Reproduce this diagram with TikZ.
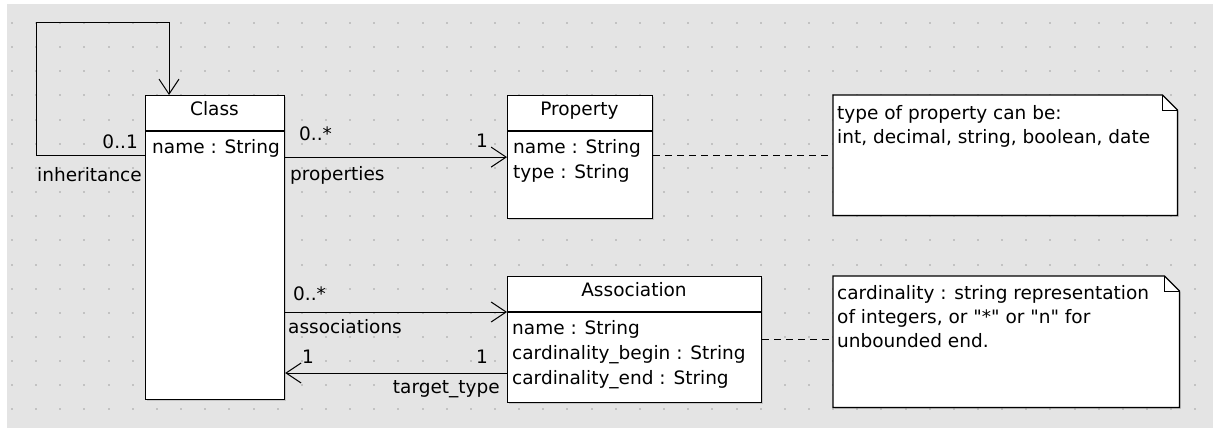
\documentclass[tikz,border=0pt]{standalone}
\usepackage{fontspec}
\setmainfont{DejaVu Sans}[Ligatures=TeXOff]
\usetikzlibrary{arrows.meta,shadows,positioning}
\definecolor{canvasgray}{HTML}{E4E4E4}
\definecolor{dotgray}{HTML}{C2C2C2}
\begin{document}
\begin{tikzpicture}[x=1pt, y=-1pt, font=\fontsize{18.5pt}{24pt}\selectfont,
    box/.style = {draw, fill=white, line width=1.2pt, inner sep=0pt, anchor=north west,
                  drop shadow={shadow xshift=1.5pt, shadow yshift=-1.5pt, opacity=.3}},
    notebox/.style = {inner sep=0pt, anchor=north west},
    notebody/.style = {draw, fill=white, line width=1.2pt,
                  drop shadow={shadow xshift=1.5pt, shadow yshift=-1.5pt, opacity=.3}},
    title/.style = {inner sep=0pt, anchor=base},
    attr/.style = {inner sep=0pt, anchor=base west},
    lblw/.style = {inner sep=0pt, anchor=base west},
    lble/.style = {inner sep=0pt, anchor=base east},
    assoc/.style = {line width=1pt, -{Straight Barb[length=15pt, width=20pt]}},
    link/.style = {line width=1pt, dash pattern=on 7pt off 5pt}]
    \useasboundingbox (0,0) rectangle (1213,428);
    \fill[white] (0,0) rectangle (1213,428);
    \fill[canvasgray] (7,4) rectangle (1213,428);
    \foreach \i in {0,...,49}
        \foreach \j in {0,...,16}
            \fill[dotgray] ({11+24.15*\i},{22+24.15*\j}) rectangle ++(2,2);

    \node[box, minimum width=139pt, minimum height=304pt] (class) at (145,95) {};
    \node[title] (classtitle) at (214.5,115) {Class};
    \draw[line width=1.2pt] ([yshift=-36pt]class.north west) -- ([yshift=-36pt]class.north east);
    \node[attr] (classname) at (152,153) {name : String};

    \node[box, minimum width=145pt, minimum height=123pt] (prop) at (507,95) {};
    \node[title] (proptitle) at (579.5,115) {Property};
    \draw[line width=1.2pt] ([yshift=-36pt]prop.north west) -- ([yshift=-36pt]prop.north east);
    \node[attr] (propname) at (513,153) {name : String};
    \node[attr] (proptype) at (513,178) {type : String};

    \node[box, minimum width=254pt, minimum height=126pt] (assoc) at (507,276) {};
    \node[title] (assoctitle) at (634,296) {Association};
    \draw[line width=1.2pt] ([yshift=-36pt]assoc.north west) -- ([yshift=-36pt]assoc.north east);
    \node[attr] (assocname) at (512,334) {name : String};
    \node[attr] (assocbegin) at (512,359) {cardinality\_begin : String};
    \node[attr] (assocend) at (512,384) {cardinality\_end : String};

    \node[notebox, minimum width=344pt, minimum height=120pt] (note1) at (833,95) {};
    \node[notebox, minimum width=346pt, minimum height=131pt] (note2) at (833,276) {};
    \foreach \n in {note1,note2} {
        \path[notebody] (\n.north west) -- ([xshift=-15pt]\n.north east)
            -- ([yshift=-15pt]\n.north east) -- (\n.south east) -- (\n.south west) -- cycle;
        \draw[line width=1pt] ([xshift=-15pt]\n.north east) |- ([yshift=-15pt]\n.north east);
    }
    \node[attr, align=left] (note1text) at (837,143) {type of property can be:\\int, decimal, string, boolean, date};
    \node[attr, align=left] (note2text) at (837,347) {cardinality : string representation\\of integers, or "*" or "n" for\\unbounded end.};

    \coordinate (inhfrom) at ([yshift=-60pt]class.north west);
    \coordinate (inhto) at ([xshift=24pt]class.north west);
    \draw[assoc] (inhfrom) -- ++(-109,0) |- ([yshift=72pt]inhto) -- (inhto);
    \node[lble] (inhmult) at (138,148) {0..1};
    \node[lblw] (inhname) at (37,181) {inheritance};

    \draw[assoc] (class.east |- prop.west) -- (prop.west);
    \node[lblw] (propmultsrc) at (299,140) {0..*};
    \node[lblw] (propname) at (290,180) {properties};
    \node[lble] (propmultdst) at (488,147) {1};

    \coordinate (associn) at ([yshift=-36pt]assoc.north west);
    \coordinate (assocout) at ([yshift=-97pt]assoc.north west);
    \draw[assoc] (class.east |- associn) -- (associn);
    \node[lblw] (assocmultsrc) at (293,300) {0..*};
    \node[lblw] (assocrole) at (288,333) {associations};
    \draw[assoc] (assocout) -- (class.east |- assocout);
    \node[lblw] (targetmultdst) at (302,363) {1};
    \node[lble] (targetmultsrc) at (488,363) {1};
    \node[lble] (targetname) at (500,393) {target\_type};

    \draw[link] (note1.west -| prop.east) -- (note1.west);
    \draw[link] (assoc.east) -- (assoc.east -| note2.west);
\end{tikzpicture}
\end{document}
